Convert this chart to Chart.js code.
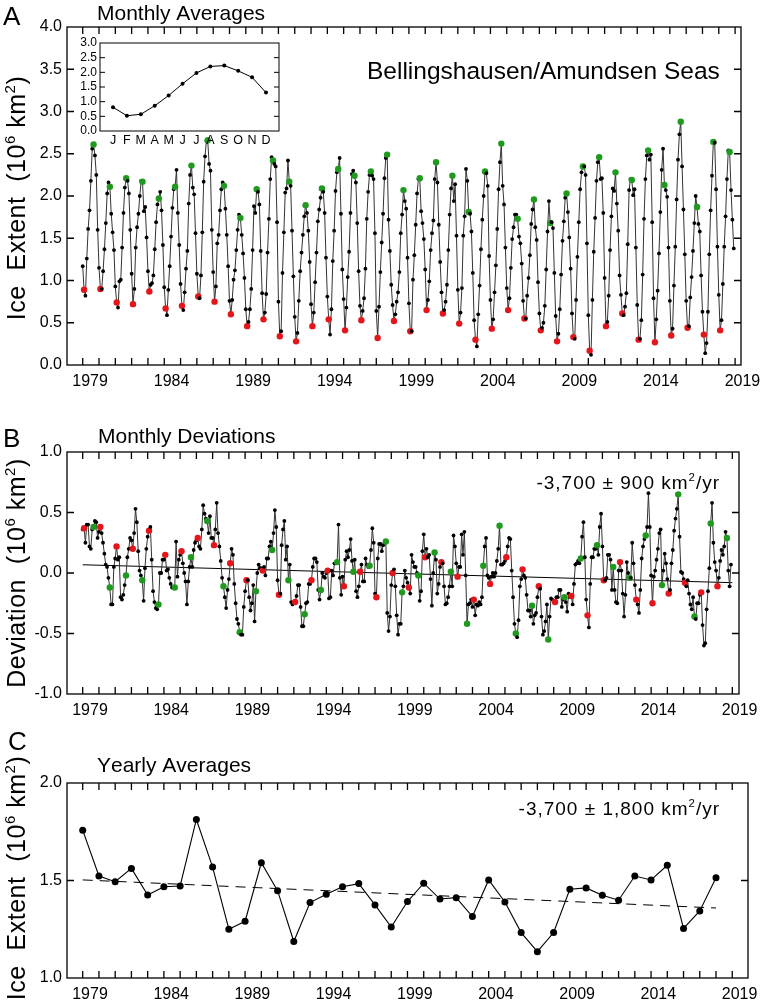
<!DOCTYPE html>
<html>
<head>
<meta charset="utf-8">
<script src="https://cdn.jsdelivr.net/npm/chart.js@4.4.1/dist/chart.umd.min.js"></script>
<style>
  body { margin: 0; background: #fff; }
  #wrap { position: relative; width: 762px; height: 1005px; }
  canvas { position: absolute; left: 0; top: 0; }
</style>
</head>
<body>
<div id="wrap">
  <canvas id="chartA" width="762" height="1005"></canvas>
  <canvas id="chartB" width="762" height="1005"></canvas>
  <canvas id="chartC" width="762" height="1005"></canvas>
  <canvas id="inset" width="762" height="1005"></canvas>
</div>
<script>
// ---- data ----
const startYear = 1979;
const yearTicks = [1979, 1984, 1989, 1994, 1999, 2004, 2009, 2014, 2019];
const monthLabels = ["J", "F", "M", "A", "M", "J", "J", "A", "S", "O", "N", "D"];

// inset: mean seasonal cycle (10^6 km^2)
const climatology = [0.81, 0.52, 0.57, 0.86, 1.21, 1.61, 1.98, 2.20, 2.23, 2.05, 1.83, 1.31];

// panel A: monthly extent, one row per year (Jan..Dec)
const monthlyExtent = [
  1.17,0.89,0.82,1.26,1.61,1.83,2.18,2.56,2.61,2.48,2.25,1.60, // 1979
  1.15,0.90,0.90,1.11,1.37,1.68,2.03,2.16,2.11,1.79,1.57,1.36,
  0.93,0.74,0.68,0.99,1.01,1.39,1.80,2.10,2.21,2.18,2.03,1.60,
  1.08,0.72,0.90,1.39,1.63,1.79,2.00,2.18,2.17,1.82,1.87,1.51,
  1.11,0.87,0.95,0.97,1.06,1.37,1.69,1.90,1.97,2.05,1.83,1.42,
  0.92,0.67,0.59,0.89,1.17,1.52,1.86,2.08,2.11,2.31,1.80,1.42, // 1984
  0.96,0.70,0.65,0.86,1.14,1.35,1.91,2.25,2.36,2.10,2.02,1.56,
  1.08,0.81,0.79,1.06,1.57,2.17,2.47,2.65,2.66,2.38,2.30,1.60,
  1.10,0.75,0.93,1.44,1.54,1.83,2.08,2.16,2.12,1.85,1.54,1.17,
  0.76,0.60,0.77,1.01,1.12,1.36,1.60,1.78,1.74,1.54,1.32,1.03,
  0.66,0.46,0.51,0.66,0.90,1.36,1.88,1.80,2.08,2.05,1.90,1.35, // 1989
  0.85,0.54,0.62,0.84,1.33,1.73,2.20,2.46,2.42,2.38,2.35,1.69,
  0.75,0.34,0.40,1.09,1.57,2.04,2.09,2.42,2.17,2.12,1.59,1.05,
  0.57,0.28,0.38,0.76,1.11,1.33,1.54,1.76,1.89,1.80,1.59,1.22,
  0.72,0.46,0.62,0.98,1.33,1.70,1.84,1.98,2.09,2.05,1.80,1.27,
  0.81,0.54,0.36,0.66,1.23,1.59,2.06,2.28,2.32,2.45,1.79,1.13, // 1994
  0.78,0.41,0.68,1.04,1.34,1.80,2.26,2.30,2.24,2.16,1.68,1.11,
  0.70,0.53,0.64,0.79,1.14,1.73,2.05,2.25,2.29,2.24,2.20,1.56,
  0.64,0.32,0.69,1.10,1.45,1.79,2.21,2.45,2.49,1.72,1.35,0.95,
  0.71,0.52,0.60,0.75,0.86,1.10,1.56,1.78,2.07,1.94,1.85,1.27,
  0.73,0.40,0.40,1.01,1.30,1.66,2.03,2.20,2.21,1.82,1.68,1.49, // 1999
  1.13,0.65,0.77,0.99,1.36,1.56,1.71,2.20,2.40,2.16,1.66,1.22,
  0.86,0.61,0.65,0.75,0.95,1.36,1.78,2.09,2.24,1.94,2.14,1.53,
  0.89,0.49,0.62,0.91,1.53,1.76,2.32,2.18,1.81,1.79,1.58,1.09,
  0.53,0.30,0.22,0.60,0.94,1.37,1.72,2.00,2.29,2.27,2.12,1.29,
  0.77,0.43,0.54,0.86,1.18,1.61,2.08,2.40,2.62,2.12,1.90,1.39, // 2004
  0.91,0.65,0.79,1.15,1.49,1.63,1.78,1.78,1.73,1.52,1.44,1.20,
  0.76,0.55,0.55,0.82,1.03,1.30,1.67,1.84,1.96,1.63,1.48,0.98,
  0.61,0.41,0.44,0.50,0.70,1.13,1.58,1.94,1.68,1.69,1.62,1.09,
  0.58,0.28,0.37,0.66,1.07,1.47,1.70,1.98,2.03,1.81,1.51,1.14,
  0.61,0.33,0.31,0.77,1.28,1.69,2.08,2.28,2.35,2.35,2.25,1.44, // 2009
  0.59,0.17,0.12,0.77,1.34,1.74,2.18,2.40,2.46,2.20,2.21,1.80,
  1.03,0.46,0.51,0.82,1.36,1.76,2.09,2.06,2.28,1.91,1.59,1.06,
  0.83,0.61,0.59,0.69,0.85,1.43,2.07,2.20,2.19,2.01,2.08,1.39,
  0.71,0.30,0.31,0.53,1.07,1.73,2.20,2.48,2.54,2.43,2.49,1.69,
  0.79,0.27,0.54,0.88,1.32,1.81,2.31,2.56,2.13,2.07,1.99,1.39, // 2014
  0.76,0.35,0.43,0.94,1.40,1.96,2.43,2.73,2.88,2.35,1.84,1.31,
  0.76,0.44,0.46,0.80,1.04,1.35,1.68,2.00,1.87,1.67,1.58,1.06,
  0.63,0.36,0.14,0.26,0.63,1.31,1.83,2.24,2.64,2.63,2.08,1.40,
  0.83,0.41,0.53,0.96,1.40,1.76,2.20,2.54,2.52,2.07,1.72,1.38  // 2018
];

// panel B: monthly deviations from the seasonal cycle
const monthlyDeviation = [
  0.36,0.37,0.25,0.40,0.40,0.22,0.20,0.36,0.38,0.43,0.42,0.29, // 1979
  0.34,0.38,0.33,0.25,0.16,0.07,0.05,-0.04,-0.12,-0.26,-0.26,0.05,
  0.12,0.22,0.11,0.13,-0.20,-0.22,-0.18,-0.10,-0.02,0.13,0.20,0.29,
  0.27,0.20,0.33,0.53,0.42,0.18,0.02,-0.02,-0.06,-0.23,0.04,0.20,
  0.30,0.35,0.38,0.11,-0.15,-0.24,-0.29,-0.30,-0.26,0.00,0.00,0.11,
  0.11,0.15,0.02,0.03,-0.04,-0.09,-0.12,-0.12,-0.12,0.26,-0.03,0.11, // 1984
  0.15,0.18,0.08,0.00,-0.07,-0.26,-0.07,0.05,0.13,0.05,0.19,0.25,
  0.27,0.29,0.22,0.20,0.36,0.56,0.49,0.45,0.43,0.33,0.47,0.29,
  0.29,0.23,0.36,0.58,0.33,0.22,0.10,-0.04,-0.11,-0.20,-0.29,-0.14,
  -0.05,0.08,0.20,0.15,-0.09,-0.25,-0.38,-0.42,-0.49,-0.51,-0.51,-0.28,
  -0.15,-0.06,-0.06,-0.20,-0.31,-0.25,-0.10,-0.40,-0.15,0.00,0.07,0.04, // 1989
  0.04,0.02,0.05,-0.02,0.12,0.12,0.22,0.26,0.19,0.33,0.52,0.38,
  -0.06,-0.18,-0.17,0.23,0.36,0.43,0.11,0.22,-0.06,0.07,-0.24,-0.26,
  -0.24,-0.24,-0.19,-0.10,-0.10,-0.28,-0.44,-0.44,-0.34,-0.25,-0.24,-0.09,
  -0.09,-0.06,0.05,0.12,0.12,0.09,-0.14,-0.22,-0.14,0.00,-0.03,-0.04,
  0.00,0.02,-0.21,-0.20,0.02,-0.02,0.08,0.08,0.09,0.40,-0.04,-0.18, // 1994
  -0.03,-0.11,0.11,0.18,0.13,0.19,0.28,0.10,0.01,0.11,-0.15,-0.20,
  -0.11,0.01,0.07,-0.07,-0.07,0.12,0.07,0.05,0.06,0.19,0.37,0.25,
  -0.17,-0.20,0.12,0.24,0.24,0.18,0.23,0.25,0.26,-0.33,-0.48,-0.36,
  -0.10,0.00,0.03,-0.11,-0.35,-0.51,-0.42,-0.42,-0.16,-0.11,0.02,-0.04,
  -0.08,-0.12,-0.17,0.15,0.09,0.05,0.05,0.00,-0.02,-0.23,-0.15,0.18, // 1999
  0.32,0.13,0.20,0.13,0.15,-0.05,-0.27,0.00,0.17,0.11,-0.17,-0.09,
  0.05,0.09,0.08,-0.11,-0.26,-0.25,-0.20,-0.11,0.01,-0.11,0.31,0.22,
  0.08,-0.03,0.05,0.05,0.32,0.15,0.34,-0.02,-0.42,-0.26,-0.25,-0.22,
  -0.28,-0.22,-0.35,-0.26,-0.27,-0.24,-0.26,-0.20,0.06,0.22,0.29,-0.02,
  -0.04,-0.09,-0.03,0.00,-0.03,0.00,0.10,0.20,0.39,0.07,0.07,0.08, // 2004
  0.10,0.13,0.22,0.29,0.28,0.02,-0.20,-0.42,-0.50,-0.53,-0.39,-0.11,
  -0.05,0.03,-0.02,-0.04,-0.18,-0.31,-0.31,-0.36,-0.27,-0.42,-0.35,-0.33,
  -0.20,-0.11,-0.13,-0.36,-0.51,-0.48,-0.40,-0.26,-0.55,-0.36,-0.21,-0.22,
  -0.23,-0.24,-0.20,-0.20,-0.14,-0.14,-0.28,-0.22,-0.20,-0.24,-0.32,-0.17,
  -0.20,-0.19,-0.26,-0.09,0.07,0.08,0.10,0.08,0.12,0.30,0.42,0.13, // 2009
  -0.22,-0.35,-0.45,-0.09,0.13,0.13,0.20,0.20,0.23,0.15,0.38,0.49,
  0.22,-0.06,-0.06,-0.04,0.15,0.15,0.11,-0.14,0.05,-0.14,-0.24,-0.25,
  0.02,0.09,0.02,-0.17,-0.36,-0.18,0.09,0.00,-0.04,-0.04,0.25,0.08,
  -0.10,-0.22,-0.26,-0.33,-0.14,0.12,0.22,0.28,0.31,0.38,0.66,0.38,
  -0.02,-0.25,-0.03,0.02,0.11,0.20,0.33,0.36,-0.10,0.02,0.16,0.08, // 2014
  -0.05,-0.17,-0.14,0.08,0.19,0.35,0.45,0.53,0.65,0.30,0.01,0.00,
  -0.05,-0.08,-0.11,-0.06,-0.17,-0.26,-0.30,-0.20,-0.36,-0.38,-0.25,-0.25,
  -0.18,-0.16,-0.43,-0.60,-0.58,-0.30,-0.15,0.04,0.41,0.58,0.25,0.09,
  0.02,-0.11,-0.04,0.10,0.19,0.15,0.22,0.34,0.29,0.02,-0.11,0.07  // 2018
];

// panel C: yearly averages 1979..2018
const yearlyExtent = [
  1.758, 1.523, 1.494, 1.562, 1.426, 1.468, 1.472, 1.813, 1.569, 1.250,
  1.291, 1.591, 1.448, 1.187, 1.387, 1.429, 1.468, 1.484, 1.375, 1.261,
  1.392, 1.486, 1.405, 1.412, 1.315, 1.503, 1.390, 1.233, 1.135, 1.233,
  1.455, 1.462, 1.424, 1.399, 1.523, 1.503, 1.578, 1.254, 1.344, 1.514
];

// fitted trend lines: [x, y] end points
const deviationTrend = [[1979.0, 0.068], [2019.0, -0.080]];
const yearlyTrend = [[1979, 1.503], [2018, 1.359]];

// ---- styling / helpers ----
const FONT = '"Liberation Sans", Arial, Helvetica, sans-serif';
const RED = "#e3161b";
const GREEN = "#1f9a1f";
const LABEL_SHIFT = 0.45; // year labels sit a little right of their tick

function drawSpaced(ctx, text, x, y, spacing) {
  for (const ch of text) {
    ctx.fillText(ch, x, y);
    x += ctx.measureText(ch).width + spacing;
  }
  return x;
}

function richWidth(ctx, parts, size, spacing) {
  let w = 0;
  for (const [t, sup] of parts) {
    ctx.font = `${sup ? size * 0.6 : size}px ${FONT}`;
    for (const ch of t) w += ctx.measureText(ch).width + spacing;
  }
  return w;
}

function drawRich(ctx, parts, x, y, size, align, spacing) {
  const w = richWidth(ctx, parts, size, spacing);
  let cx = align === "center" ? x - w / 2 : align === "right" ? x - w : x;
  for (const [t, sup] of parts) {
    ctx.font = `${sup ? size * 0.6 : size}px ${FONT}`;
    cx = drawSpaced(ctx, t, cx, sup ? y - size * 0.42 : y, spacing);
  }
}

const framePlugin = {
  id: "frame",
  afterDatasetsDraw(chart, args, opts) {
    const { ctx, chartArea: a, scales } = chart;
    const t = opts.tickLen;
    ctx.save();
    ctx.strokeStyle = "#000";
    ctx.lineWidth = opts.lineWidth;
    ctx.beginPath();
    for (const v of opts.xTicks) {
      const px = scales.x.getPixelForValue(v);
      ctx.moveTo(px, a.bottom); ctx.lineTo(px, a.bottom - t);
      ctx.moveTo(px, a.top); ctx.lineTo(px, a.top + t);
    }
    for (const v of opts.yTicks) {
      const py = scales.y.getPixelForValue(v);
      ctx.moveTo(a.left, py); ctx.lineTo(a.left + t, py);
      ctx.moveTo(a.right, py); ctx.lineTo(a.right - t, py);
    }
    ctx.stroke();
    ctx.strokeRect(a.left, a.top, a.right - a.left, a.bottom - a.top);
    ctx.restore();
  }
};

const textPlugin = {
  id: "texts",
  afterDraw(chart, args, opts) {
    const ctx = chart.ctx;
    ctx.save();
    ctx.fillStyle = "#000";
    ctx.textBaseline = "alphabetic";
    ctx.textAlign = "left";
    for (const it of opts.items) {
      ctx.save();
      ctx.translate(it.x, it.y);
      if (it.rotate) ctx.rotate(-Math.PI / 2);
      drawRich(ctx, it.parts, 0, 0, it.size, it.align || "left", it.spacing || 0);
      ctx.restore();
    }
    ctx.restore();
  }
};

const whiteBg = {
  id: "whiteBg",
  beforeDraw(chart) {
    const { ctx, chartArea: a } = chart;
    ctx.save();
    ctx.fillStyle = "#fff";
    ctx.fillRect(a.left, a.top, a.right - a.left, a.bottom - a.top);
    ctx.restore();
  }
};

const allYears = [];
for (let y = 1979; y <= 2019; y++) allYears.push(y);

function yearAxis(min, max, height) {
  return {
    type: "linear", min: min, max: max,
    afterBuildTicks: s => { s.ticks = yearTicks.map(v => ({ value: v + LABEL_SHIFT })); },
    afterFit: s => { s.height = height; s.paddingLeft = 0; s.paddingRight = 0; },
    grid: { display: false, drawTicks: false },
    border: { display: false },
    ticks: {
      autoSkip: false, maxRotation: 0, padding: 7, color: "#000",
      font: { family: FONT, size: 16 },
      callback: v => String(Math.round(v - LABEL_SHIFT))
    }
  };
}

function valueAxis(min, max, labels, width) {
  return {
    type: "linear", min: min, max: max,
    afterBuildTicks: s => { s.ticks = labels.map(v => ({ value: v })); },
    afterFit: s => { s.width = width; s.paddingTop = 0; s.paddingBottom = 0; },
    grid: { display: false, drawTicks: false },
    border: { display: false },
    ticks: { autoSkip: false, padding: 5, color: "#000", font: { family: FONT, size: 16 }, callback: v => v.toFixed(1) }
  };
}

function monthlyPoints(values) {
  return values.map((v, i) => ({ x: startYear + i / 12, y: v }));
}
const pointColors = monthlyExtent.map((v, i) => (i % 12 === 1 ? RED : i % 12 === 8 ? GREEN : "#000"));
const pointSizes = monthlyExtent.map((v, i) => (i % 12 === 1 || i % 12 === 8 ? 3.2 : 1.9));

const common = {
  responsive: false, animation: false, devicePixelRatio: 1,
  events: [],
  plugins: { legend: { display: false }, tooltip: { enabled: false } }
};

const iceLabel = [["Ice  Extent  (10", false], ["6", true], [" km", false], ["2", true], [")", false]];

// ---- panel A ----
new Chart(document.getElementById("chartA"), {
  type: "line",
  data: {
    datasets: [{
      data: monthlyPoints(monthlyExtent),
      borderColor: "#333", borderWidth: 1, tension: 0,
      pointRadius: pointSizes, pointBackgroundColor: pointColors, pointBorderWidth: 0
    }]
  },
  options: {
    ...common,
    layout: { padding: { left: 0, top: 27, right: 21, bottom: 600 } },
    scales: {
      x: yearAxis(1978.037, 2019.362, 40),
      y: valueAxis(0, 4, [0, 0.5, 1, 1.5, 2, 2.5, 3, 3.5, 4], 67)
    },
    plugins: {
      ...common.plugins,
      frame: { xTicks: allYears, yTicks: [0.5, 1, 1.5, 2, 2.5, 3, 3.5], tickLen: 7, lineWidth: 1.3 },
      texts: { items: [
        { parts: [["A", false]], x: 3, y: 25, size: 26 },
        { parts: [["Monthly Averages", false]], x: 97, y: 20, size: 21 },
        { parts: [["Bellingshausen/Amundsen Seas", false]], x: 367, y: 79, size: 24.5 },
        { parts: iceLabel, x: 25, y: 198, size: 25, rotate: true, align: "center", spacing: 0.5 }
      ] }
    }
  },
  plugins: [framePlugin, textPlugin]
});

// ---- panel B ----
new Chart(document.getElementById("chartB"), {
  type: "line",
  data: {
    datasets: [{
      data: monthlyPoints(monthlyDeviation),
      borderColor: "#333", borderWidth: 1, tension: 0, order: 1,
      pointRadius: pointSizes, pointBackgroundColor: pointColors, pointBorderWidth: 0
    }, {
      data: deviationTrend.map(p => ({ x: p[0], y: p[1] })),
      borderColor: "#000", borderWidth: 1, pointRadius: 0, order: 2
    }]
  },
  options: {
    ...common,
    layout: { padding: { left: 0, top: 452, right: 23, bottom: 271 } },
    scales: {
      x: yearAxis(1978.033, 2019.41, 40),
      y: valueAxis(-1, 1, [-1, -0.5, 0, 0.5, 1], 67)
    },
    plugins: {
      ...common.plugins,
      frame: { xTicks: allYears, yTicks: [-0.5, 0, 0.5], tickLen: 7, lineWidth: 1.3 },
      texts: { items: [
        { parts: [["B", false]], x: 3, y: 447, size: 26 },
        { parts: [["Monthly Deviations", false]], x: 98, y: 443, size: 21 },
        { parts: [["-3,700 ± 900 km", false], ["2", true], ["/yr", false]], x: 720, y: 489, size: 19, align: "right", spacing: 1 },
        { parts: [["Deviation  (10", false], ["6", true], [" km", false], ["2", true], [")", false]], x: 25, y: 573, size: 25, rotate: true, align: "center", spacing: 0.5 }
      ] }
    }
  },
  plugins: [framePlugin, textPlugin]
});

// ---- panel C ----
new Chart(document.getElementById("chartC"), {
  type: "line",
  data: {
    datasets: [{
      data: yearlyExtent.map((v, i) => ({ x: startYear + i, y: v })),
      borderColor: "#000", borderWidth: 1.1, tension: 0, order: 1,
      pointRadius: 3.5, pointBackgroundColor: "#000", pointBorderWidth: 0
    }, {
      data: yearlyTrend.map(p => ({ x: p[0], y: p[1] })),
      borderColor: "#000", borderWidth: 1, borderDash: [10, 7], pointRadius: 0, order: 2
    }]
  },
  options: {
    ...common,
    layout: { padding: { left: 0, top: 783, right: 14, bottom: 0 } },
    scales: {
      x: yearAxis(1978.033, 2019.97, 27),
      y: valueAxis(1, 2, [1, 1.5, 2], 67)
    },
    plugins: {
      ...common.plugins,
      frame: { xTicks: allYears, yTicks: [1.5], tickLen: 7, lineWidth: 1.3 },
      texts: { items: [
        { parts: [["C", false]], x: 8, y: 750, size: 26 },
        { parts: [["Yearly Averages", false]], x: 97, y: 772, size: 21 },
        { parts: [["-3,700 ± 1,800 km", false], ["2", true], ["/yr", false]], x: 720, y: 815, size: 19, align: "right", spacing: 1 },
        { parts: iceLabel, x: 25, y: 878, size: 25, rotate: true, align: "center", spacing: 0.5 }
      ] }
    }
  },
  plugins: [framePlugin, textPlugin]
});

// ---- inset: seasonal cycle ----
new Chart(document.getElementById("inset"), {
  type: "line",
  data: {
    datasets: [{
      data: climatology.map((v, i) => ({ x: i, y: v })),
      borderColor: "#000", borderWidth: 1, tension: 0,
      pointRadius: 2, pointBackgroundColor: "#000", pointBorderWidth: 0
    }]
  },
  options: {
    ...common,
    layout: { padding: { left: 74, top: 43, right: 483, bottom: 856 } },
    scales: {
      x: {
        type: "linear", min: -0.935, max: 11.935,
        afterBuildTicks: s => { s.ticks = monthLabels.map((m, i) => ({ value: i })); },
        afterFit: s => { s.height = 18; s.paddingLeft = 0; s.paddingRight = 0; },
        grid: { display: false, drawTicks: false }, border: { display: false },
        ticks: { autoSkip: false, maxRotation: 0, padding: 2, color: "#000",
                 font: { family: FONT, size: 12.5 }, callback: v => monthLabels[v] }
      },
      y: {
        type: "linear", min: 0, max: 3,
        afterBuildTicks: s => { s.ticks = [0, 0.5, 1, 1.5, 2, 2.5, 3].map(v => ({ value: v })); },
        afterFit: s => { s.width = 26; s.paddingTop = 0; s.paddingBottom = 0; },
        grid: { display: false, drawTicks: false }, border: { display: false },
        ticks: { autoSkip: false, padding: 3, color: "#000", font: { family: FONT, size: 12 }, callback: v => v.toFixed(1) }
      }
    },
    plugins: {
      ...common.plugins,
      frame: { xTicks: [], yTicks: [0.5, 1, 1.5, 2, 2.5], tickLen: 5, lineWidth: 1 }
    }
  },
  plugins: [whiteBg, framePlugin]
});
</script>
</body>
</html>
